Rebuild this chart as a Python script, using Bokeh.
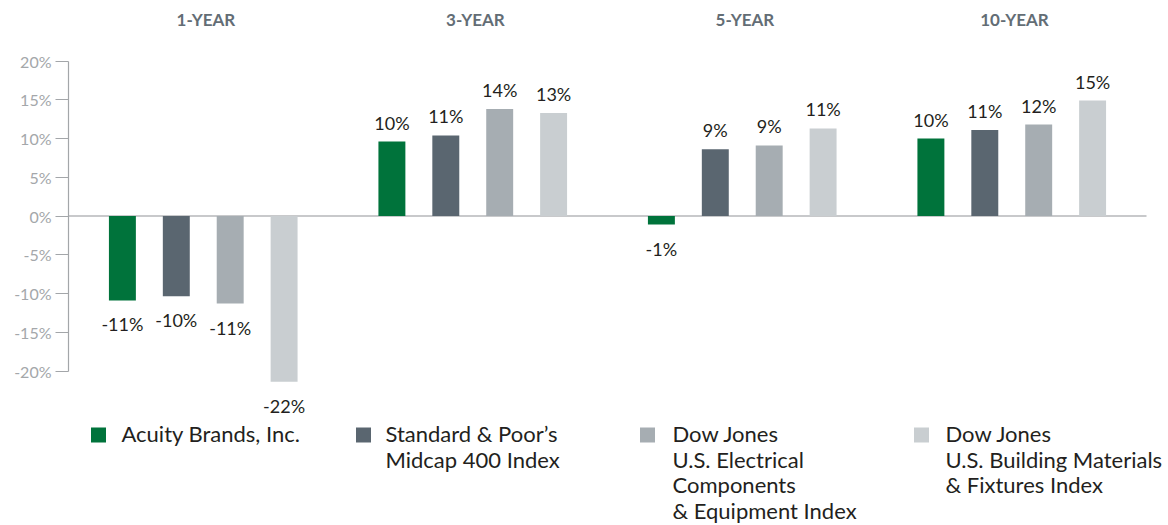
from bokeh.plotting import figure
from bokeh.models import ColumnDataSource, Range1d, FixedTicker, PrintfTickFormatter
from bokeh.core.properties import value
from bokeh.embed import file_html
from bokeh.resources import INLINE

# ---------------- data ----------------
periods = ["1-YEAR", "3-YEAR", "5-YEAR", "10-YEAR"]
series_names = [
    "Acuity Brands, Inc.",
    "Standard & Poor\u2019s Midcap 400 Index",
    "Dow Jones U.S. Electrical Components & Equipment Index",
    "Dow Jones U.S. Building Materials & Fixtures Index",
]
legend_lines = [
    ["Acuity Brands, Inc."],
    ["Standard & Poor\u2019s", "Midcap 400 Index"],
    ["Dow Jones", "U.S. Electrical", "Components", "& Equipment Index"],
    ["Dow Jones", "U.S. Building Materials", "& Fixtures Index"],
]
acuity = [-10.9, 9.6, -1.1, 10.0]
sp400 = [-10.35, 10.4, 8.6, 11.1]
dj_electrical = [-11.3, 13.8, 9.1, 11.8]
dj_building = [-21.4, 13.3, 11.3, 14.9]
acuity_labels = ["-11%", "10%", "-1%", "10%"]
sp400_labels = ["-10%", "11%", "9%", "11%"]
dj_electrical_labels = ["-11%", "14%", "9%", "12%"]
dj_building_labels = ["-22%", "13%", "11%", "15%"]
y_ticks = [-20, -15, -10, -5, 0, 5, 10, 15, 20]

series_values = [acuity, sp400, dj_electrical, dj_building]
series_labels = [acuity_labels, sp400_labels, dj_electrical_labels, dj_building_labels]
colors = ["#00733b", "#5a6670", "#a6adb2", "#c9ced1"]

# ---------------- layout constants ----------------
W, H = 1168, 525
LEFT = 68                 # frame left (axis position)
PX_PER_UNIT = 53.9        # horizontal pixels per x unit
PX_PER_PCT = 7.75         # vertical pixels per percent
ZERO_PX = 215.5           # pixel row of 0%

x_end = (W - LEFT) / PX_PER_UNIT
y_top = ZERO_PX / PX_PER_PCT
y_bot = -(H - ZERO_PX) / PX_PER_PCT


def y_at(px):
    return (ZERO_PX - px) / PX_PER_PCT


def x_at(px):
    return (px - LEFT) / PX_PER_UNIT


FONT = "Lato"

p = figure(width=W, height=H, output_backend="svg", toolbar_location=None,
           x_range=Range1d(0, x_end), y_range=Range1d(y_bot, y_top),
           min_border_left=LEFT, min_border_right=0, min_border_top=0,
           min_border_bottom=0, outline_line_color=None,
           background_fill_color="white", border_fill_color="white")
p.xaxis.visible = False
p.xgrid.visible = False
p.ygrid.visible = False

yax = p.yaxis[0]
yax.ticker = FixedTicker(ticks=y_ticks)
yax.formatter = PrintfTickFormatter(format="%d%%")
yax.bounds = (min(y_ticks), max(y_ticks))
yax.major_tick_out = 13
yax.major_tick_in = 0
yax.minor_tick_line_color = None
yax.axis_line_color = "#a3a6a9"
yax.axis_line_width = 1.2
yax.major_tick_line_color = "#a3a6a9"
yax.major_tick_line_width = 1.2
yax.major_label_text_color = "#a4a7aa"
yax.major_label_text_font = FONT
yax.major_label_text_font_size = "16px"
yax.major_label_standoff = 4

# zero line
p.segment(x0=[-0.3], y0=[0], x1=[20.0], y1=[0], line_color="#c8c9cb", line_width=2)

# bars and value labels
for j, (vals, labs, col) in enumerate(zip(series_values, series_labels, colors)):
    xs = [g * 5 + j + 1 for g in range(len(periods))]
    src = ColumnDataSource(dict(x=xs, top=vals, lab=labs,
                                off=[-19 if v >= 0 else 24 for v in vals]))
    p.vbar(x="x", top="top", bottom=0, width=0.5, source=src,
           fill_color=col, line_color=None)
    p.text(x="x", y="top", text="lab", y_offset="off", source=src,
           text_align="center", text_baseline="middle",
           text_font=value(FONT), text_font_size="18px", text_color="#231f20")

# period headers
hdr = ColumnDataSource(dict(x=[g * 5 + 2.55 for g in range(len(periods))],
                            y=[y_at(19)] * len(periods), t=periods))
p.text(x="x", y="y", text="t", source=hdr, text_align="center",
       text_baseline="middle", text_font=value(FONT), text_font_style="bold",
       text_font_size="17px", text_color="#636d75")

# legend
sq_x = [98, 363, 647, 921]
tx_x = [121, 385, 672, 945]
line_h = 25.7
first_y = 433
for i, lines in enumerate(legend_lines):
    p.rect(x=[x_at(sq_x[i])], y=[y_at(first_y + 1.5)], width=15, height=15,
           width_units="screen", height_units="screen",
           fill_color=colors[i], line_color=None)
    ys = [y_at(first_y + k * line_h) for k in range(len(lines))]
    p.text(x=[x_at(tx_x[i])] * len(lines), y=ys, text=lines,
           text_align="left", text_baseline="middle",
           text_font=value(FONT), text_font_size="22px", text_color="#231f20")

open("out.html", "w").write(file_html(p, INLINE))
